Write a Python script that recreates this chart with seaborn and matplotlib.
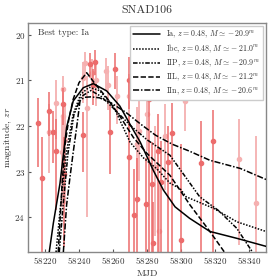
import numpy as np
import pandas as pd
import matplotlib
matplotlib.use("Agg")
import matplotlib.pyplot as plt
import seaborn as sns

# Observations (MJD, magnitude, upper/lower error, shade group)
mjd_dark = [58216.0, 58218.0, 58222.3, 58224.5, 58226.5, 58230.8, 58231.0,
            58242.2, 58246.5, 58248.4, 58249.4, 58258.2, 58261.2,
            58269.6, 58269.6, 58272.4, 58274.3, 58279.4, 58281.0, 58282.7,
            58283.3, 58286.6, 58288.0, 58292.5, 58294.5,
            58300.0, 58312.0, 58319.0]
mag_dark = [21.94, 23.14, 21.66, 22.12, 22.54, 21.52, 23.04,
            22.20, 20.65, 21.09, 20.59, 22.14, 20.74,
            20.98, 22.68, 23.95, 23.59, 23.70, 21.41, 23.26,
            24.57, 22.54, 23.22, 22.79, 22.15,
            24.50, 22.80, 22.33]
up_dark = [0.55, 0.90, 0.40, 0.45, 0.70, 0.35, 0.80,
           0.50, 0.25, 0.35, 0.25, 0.60, 0.35,
           0.50, 0.90, 1.00, 0.90, 1.00, 0.35, 0.90,
           0.90, 0.80, 0.90, 0.80, 0.65,
           2.10, 0.92, 0.68]
dn_dark = [0.95, 1.70, 0.55, 0.70, 1.30, 0.45, 1.60,
           0.80, 0.30, 0.45, 0.30, 0.90, 0.45,
           0.65, 2.20, 1.00, 1.30, 1.20, 3.40, 1.60,
           0.30, 2.30, 1.60, 2.00, 2.70,
           0.30, 2.00, 2.50]

mjd_light = [58222.5, 58226.5, 58229.8, 58230.8, 58230.8, 58232.0,
             58242.2, 58243.5, 58244.6, 58247.5, 58250.0, 58255.9, 58257.2,
             58262.5, 58269.6, 58273.9, 58275.0, 58279.8, 58284.5, 58287.0,
             58290.6, 58302.4, 58334.0, 58344.0]
mag_light = [22.12, 21.49, 22.57, 21.18, 21.78, 22.30,
             20.94, 20.62, 21.60, 20.83, 21.00, 20.80, 21.09,
             21.35, 21.35, 22.39, 22.10, 21.74, 22.90, 24.30,
             22.21, 21.46, 22.73, 23.68]
up_light = [0.60, 0.50, 0.80, 0.28, 0.45, 0.80,
            0.35, 0.25, 0.70, 0.30, 0.40, 0.30, 0.40,
            0.45, 0.50, 0.80, 0.70, 0.55, 0.90, 1.00,
            0.70, 0.36, 0.88, 1.46]
dn_light = [0.90, 0.80, 1.20, 0.35, 0.70, 1.40,
            0.55, 0.35, 2.40, 0.40, 0.55, 0.40, 0.55,
            0.60, 0.80, 1.30, 1.10, 0.80, 1.50, 0.60,
            1.20, 0.64, 1.87, 1.50]

# Model light curves
ia_mjd = [58222.5, 58224.9, 58228.8, 58232.7, 58236.6, 58242.5, 58248.4, 58256.3,
          58264.0, 58270.0, 58276.0, 58283.7, 58289.6, 58296.5, 58305.0, 58317.0,
          58332.8, 58350.4]
ia_mag = [24.76, 24.13, 23.26, 22.03, 21.45, 21.16, 21.07, 21.23,
          21.56, 21.96, 22.35, 22.97, 23.40, 23.77, 24.02, 24.31,
          24.46, 24.64]
ibc_mjd = [58226.5, 58229.0, 58232.5, 58236.5, 58241.0, 58246.0, 58252.0, 58260.0,
           58270.0, 58278.0, 58285.6, 58293.5, 58299.4, 58303.0, 58319.0,
           58333.0, 58350.0]
ibc_mag = [24.76, 23.80, 22.60, 21.75, 21.30, 21.15, 21.22, 21.55,
           22.35, 22.70, 22.93, 23.25, 23.37, 23.55, 23.80,
           24.10, 24.31]
iip_mjd = [58228.4, 58230.5, 58233.5, 58237.0, 58241.5, 58247.0, 58253.0, 58260.0,
           58270.0, 58280.0, 58293.5, 58311.0, 58322.0, 58332.8, 58342.0]
iip_mag = [24.76, 23.80, 22.60, 21.75, 21.35, 21.22, 21.35, 21.60,
           21.98, 22.30, 22.64, 23.55, 23.85, 24.24, 24.76]
iil_mjd = [58227.8, 58230.0, 58231.8, 58234.0, 58236.6, 58240.0, 58244.5, 58250.0,
           58256.3, 58264.0, 58272.0, 58280.0, 58293.5, 58305.3, 58317.0, 58325.5]
iil_mag = [24.76, 23.30, 22.40, 21.85, 21.41, 21.05, 20.83, 21.10,
           21.38, 21.78, 22.25, 22.60, 23.08, 23.73, 24.31, 24.76]
iin_mjd = [58230.8, 58232.7, 58234.7, 58236.5, 58238.6, 58240.6, 58243.0, 58247.0,
           58252.0, 58258.8, 58267.6, 58276.0, 58285.0, 58295.0, 58305.0, 58317.0,
           58335.0, 58350.0]
iin_mag = [24.76, 23.73, 23.12, 22.60, 22.03, 21.45, 21.37, 21.36,
           21.38, 21.49, 21.70, 21.95, 22.20, 22.40, 22.55, 22.75,
           22.93, 23.17]

labels = [r"Ia, $z = 0.48$, $M \simeq -20.9^m$",
          r"Ibc, $z = 0.48$, $M \simeq -21.0^m$",
          r"IIP, $z = 0.48$, $M \simeq -20.9^m$",
          r"IIL, $z = 0.48$, $M \simeq -21.2^m$",
          r"IIn, $z = 0.48$, $M \simeq -20.6^m$"]

sns.set_theme(style="ticks")
plt.rcParams["font.family"] = ["cmr10", "DejaVu Serif"]
plt.rcParams["mathtext.fontset"] = "cm"
plt.rcParams["axes.formatter.use_mathtext"] = True

fig = plt.figure(figsize=(2.8, 2.8), dpi=100)
ax = fig.add_axes([0.1, 0.1, 0.85, 0.818])

ax.errorbar(mjd_light, mag_light, yerr=[up_light, dn_light], fmt="o", ms=3,
            color="#f5b0b0", ecolor="#f5b0b0", elinewidth=1.3, capsize=0, zorder=1)
ax.errorbar(mjd_dark, mag_dark, yerr=[up_dark, dn_dark], fmt="o", ms=3,
            color="#ec6c6c", ecolor="#ec6c6c", elinewidth=1.1, capsize=0, zorder=2)

curves = [(ia_mjd, ia_mag, "-"),
          (ibc_mjd, ibc_mag, (0, (1, 1))),
          (iip_mjd, iip_mag, (0, (3, 1, 1, 1, 1, 1))),
          (iil_mjd, iil_mag, (0, (3.5, 1.5))),
          (iin_mjd, iin_mag, (0, (4, 1.2, 1, 1.2)))]
for (xs, ys, ls), lab in zip(curves, labels):
    df = pd.DataFrame({"mjd": xs, "mag": ys})
    sns.lineplot(data=df, x="mjd", y="mag", sort=False, color="black",
                 lw=1.1, linestyle=ls, label=lab, ax=ax, zorder=3)

ax.set_xlim(58210, 58350)
ax.set_ylim(24.76, 19.74)
ax.set_xticks([58220, 58240, 58260, 58280, 58300, 58320, 58340])
ax.set_yticks([20, 21, 22, 23, 24])
ax.ticklabel_format(axis="x", useOffset=False)
ax.tick_params(direction="in", length=2.5, width=0.8, labelsize=6.5,
               colors="#555555", labelcolor="#333333", pad=2)
for s in ax.spines.values():
    s.set_color("#888888")
    s.set_linewidth(1.0)

ax.set_xlabel("MJD", fontsize=7, color="#333333", labelpad=3)
ax.set_ylabel(r"magnitude, $zr$", fontsize=7, color="#333333", labelpad=0.5)
ax.set_title("SNAD106", fontsize=8.5, color="#333333", pad=7)
ax.text(0.04, 0.955, "Best type: Ia", transform=ax.transAxes, fontsize=6.5,
        color="#333333", va="center", ha="left")

leg = ax.legend(loc="upper right", fontsize=5.7, handlelength=3.4,
                labelspacing=0.3, borderaxespad=0.35, framealpha=1,
                edgecolor="#cccccc", fancybox=False, handletextpad=0.8,
                borderpad=0.4)
for t in leg.get_texts():
    t.set_color("#333333")

fig.savefig("out.png", dpi=100)
